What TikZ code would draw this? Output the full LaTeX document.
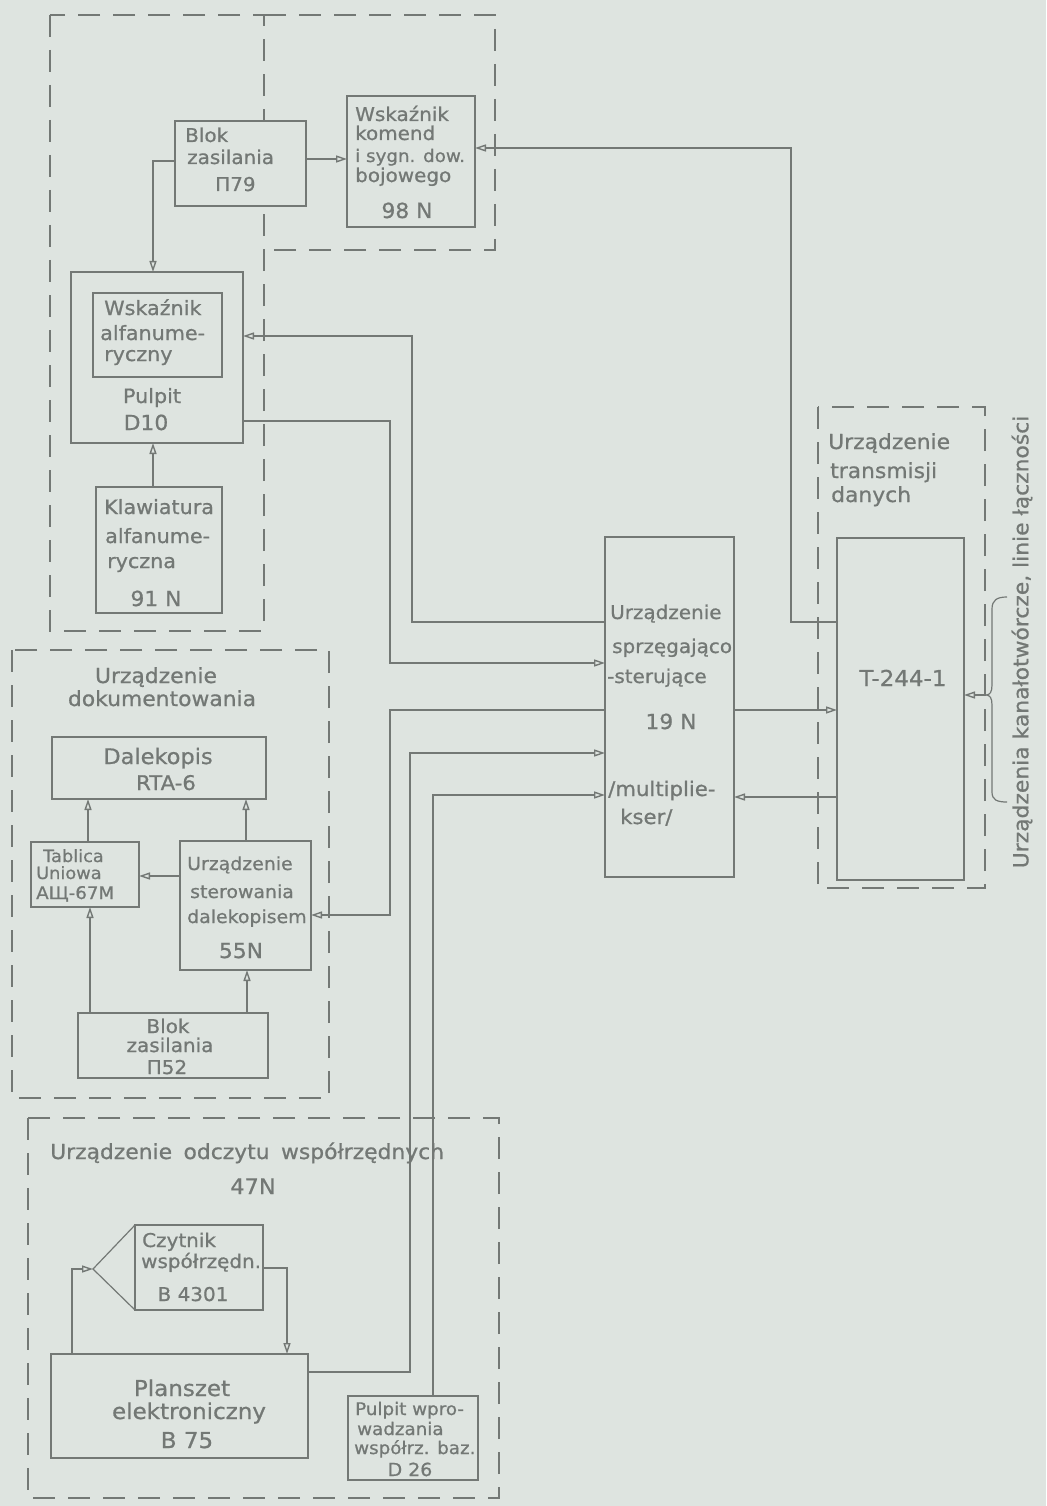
\documentclass[tikz,border=0pt]{standalone}
\usepackage{fontspec}
\usetikzlibrary{arrows.meta}
\newfontfamily\lab[FakeStretch=1.05,FakeBold=0.8]{DejaVu Sans}
\definecolor{paper}{RGB}{222,228,224}
\definecolor{ink}{RGB}{115,120,117}
\begin{document}
\begin{tikzpicture}[x=1pt,y=-1pt,
  tsize/.style={font=\lab\fontsize{#1}{#1}\selectfont},
  tl/.style={anchor=base west,inner sep=0pt,text=ink,tsize=19},
  tc/.style={anchor=base,inner sep=0pt,text=ink,tsize=19},
  box/.style={draw=ink,line width=1.3pt,fill=paper,inner sep=0pt,outer sep=0pt},
  grp/.style={draw=ink,line width=1.4pt,dash pattern=on 22pt off 13pt},
  wire/.style={draw=ink,line width=1.2pt},
  arr/.style={wire,-{Triangle[open,length=11pt,width=7pt,line width=1.4pt]}}]

% paper
\fill[paper] (0,0) rectangle (1046,1506);
\useasboundingbox (0,0) rectangle (1046,1506);

% dashed group frames
\draw[grp] (50,15) rectangle (264,631);
\draw[grp] (264,15) -- (495,15) -- (495,250) -- (264,250);
\draw[grp] (12,650) rectangle (329,1098);
\draw[grp] (818,407) rectangle (985,888);
\draw[grp] (28,1118) rectangle (499,1498);

% blocks
\node[box,minimum width=131,minimum height=85]  (blok79) at (240.5,163.5) {};
\node[box,minimum width=128,minimum height=131] (w98)    at (411,161.5) {};
\node[box,minimum width=172,minimum height=171] (pulpit) at (157,357.5) {};
\node[box,minimum width=129,minimum height=84]  (walfa)  at (157.5,335) {};
\node[box,minimum width=126,minimum height=126] (klaw)   at (159,550) {};
\node[box,minimum width=214,minimum height=62]  (dalek)  at (159,768) {};
\node[box,minimum width=108,minimum height=65]  (tabl)   at (85,874.5) {};
\node[box,minimum width=131,minimum height=129] (s55)    at (245.5,905.5) {};
\node[box,minimum width=190,minimum height=65]  (blok52) at (173,1045.5) {};
\node[box,minimum width=129,minimum height=340] (n19)    at (669.5,707) {};
\node[box,minimum width=127,minimum height=342] (t244)   at (900.5,709) {};
\node[box,minimum width=128,minimum height=85]  (czyt)   at (199,1267.5) {};
\node[box,minimum width=257,minimum height=104] (plansz) at (179.5,1406) {};
\node[box,minimum width=130,minimum height=84]  (d26)    at (413,1438) {};

% reader head of the coordinate reader
\coordinate (apex) at (93,1269);
\draw[wire] (czyt.north west) -- (apex) -- (czyt.south west);

% bend points of the connectors
\coordinate (k1) at (791,148);
\coordinate (k2) at (412,336);
\coordinate (k3) at (390,421);
\coordinate (k4) at (390,915);
\coordinate (k5) at (410,1372);
\coordinate (k6) at (433,795);
\coordinate (k7) at (287,1268);
\coordinate (k8) at (72,1269);

% connectors, upper part
\draw[arr] (blok79.east |- 0,159) -- (w98.west |- 0,159);
\draw[arr] (blok79.west |- 0,161) -| (153,0 |- pulpit.north);
\draw[arr] (klaw.north -| 153,0) -- (pulpit.south -| 153,0);
\draw[arr] (t244.west |- 0,622) -| (k1) -- (w98.east |- k1);
\draw[arr] (n19.west |- 0,622) -| (k2) -- (pulpit.east |- k2);
\draw[arr] (pulpit.east |- k3) -- (k3) |- (n19.west |- 0,663);
\draw[arr] (n19.west |- 0,710) -| (k4) -- (s55.east |- k4);
\draw[arr] (plansz.east |- k5) -- (k5) |- (n19.west |- 0,753);
\draw[arr] (d26.north -| k6) -- (k6) -- (n19.west |- k6);
\draw[arr] (n19.east |- 0,710) -- (t244.west |- 0,710);
\draw[arr] (t244.west |- 0,797) -- (n19.east |- 0,797);

% connectors, documenting unit
\draw[arr] (tabl.north -| 88,0) -- (dalek.south -| 88,0);
\draw[arr] (s55.north -| 246,0) -- (dalek.south -| 246,0);
\draw[arr] (s55.west |- 0,876) -- (tabl.east |- 0,876);
\draw[arr] (blok52.north -| 90,0) -- (tabl.south -| 90,0);
\draw[arr] (blok52.north -| 247,0) -- (s55.south -| 247,0);

% connectors, coordinate reading unit
\draw[arr] (czyt.east |- k7) -- (k7) -- (plansz.north -| k7);
\draw[arr] (plansz.north -| k8) -- (k8) -- (apex);

% external lines with brace
\coordinate (tip) at (986,695);
\draw[wire] (1007,597) .. controls (997,597) and (992,600) .. (992,609) -- (992,685)
  .. controls (992,692) and (990,695) .. (tip)
  .. controls (990,695) and (992,698) .. (992,705) -- (992,792)
  .. controls (992,800) and (997,802) .. (1007,802);
\draw[arr] (tip) -- (t244.east |- tip);
\node[anchor=center,rotate=90,inner sep=0pt,text=ink,tsize=20.8] (ext) at (1022,642)
  {Urządzenia kanałotwórcze, linie łączności};

% texts: power supply П79
\node[tl] (a1) at (185,142) {Blok};
\node[tl] (a2) at (187,164) {zasilania};
\node[tl] (a3) at (215,191) {П79};
% command indicator
\node[tl] (b1) at (355,121) {Wskaźnik};
\node[tl] (b2) at (355,140) {komend};
\node[tl,tsize=17.4] (b3) at (355,162) {i sygn. dow.};
\node[tl] (b4) at (355,182) {bojowego};
\node[tc,tsize=20.8] (b5) at (407,218) {98 N};
% console D10
\node[tl,tsize=19.7] (c1) at (104,315) {Wskaźnik};
\node[tl,tsize=19.7] (c2) at (100,340) {alfanume-};
\node[tl,tsize=19.7] (c3) at (104,361) {ryczny};
\node[tc,tsize=19.7] (c4) at (152,403) {Pulpit};
\node[tc,tsize=20.8] (c5) at (146,430) {D10};
% keyboard
\node[tl,tsize=19.7] (d1) at (104,514) {Klawiatura};
\node[tl,tsize=19.7] (d2) at (105,543) {alfanume-};
\node[tl,tsize=19.7] (d3) at (107,568) {ryczna};
\node[tc,tsize=20.8] (d4) at (156,606) {91 N};
% documenting unit
\node[tc,tsize=20.8] (e1) at (156,683) {Urządzenie};
\node[tc,tsize=20.8] (e2) at (162,706) {dokumentowania};
\node[tc,tsize=21.4] (e3) at (158,764) {Dalekopis};
\node[tc,tsize=20.2] (e4) at (166,790) {RTA-6};
\node[tl,tsize=16.9] (e5) at (43,862) {Tablica};
\node[tl,tsize=16.9] (e6) at (36,879) {Uniowa};
\node[tl,tsize=17.4] (e7) at (36,899) {АЩ-67М};
\node[tl,tsize=18] (e8) at (187,870) {Urządzenie};
\node[tl,tsize=18] (e9) at (190,898) {sterowania};
\node[tl,tsize=18] (e10) at (187,923) {dalekopisem};
\node[tc,tsize=20.8] (e11) at (241,958) {55N};
\node[tc] (e12) at (168,1033) {Blok};
\node[tc] (e13) at (170,1052) {zasilania};
\node[tc] (e14) at (167,1074) {П52};
% interface and control unit
\node[tl] (f1) at (610,619) {Urządzenie};
\node[tl] (f2) at (612,653) {sprzęgająco};
\node[tl] (f3) at (607,683) {-sterujące};
\node[tc,tsize=20.8] (f4) at (671,729) {19 N};
\node[tl,tsize=20.2] (f5) at (608,796) {/multiplie-};
\node[tl,tsize=20.2] (f6) at (620,824) {kser/};
% data transmission unit
\node[tl,tsize=20.8] (g1) at (828,449) {Urządzenie};
\node[tl,tsize=20.8] (g2) at (830,478) {transmisji};
\node[tl,tsize=20.8] (g3) at (831,502) {danych};
\node[tc,tsize=21.9] (g4) at (903,686) {T-244-1};
% coordinate reading unit
\node[tl,tsize=20.8] (h1) at (50,1159)
  {Urządzenie\hspace{0.55em}odczytu\hspace{0.55em}współrzędnych};
\node[tc,tsize=21.4] (h2) at (253,1194) {47N};
\node[tl] (h3) at (142,1247) {Czytnik};
\node[tl] (h4) at (141,1268) {współrzędn.};
\node[tc] (h5) at (193,1301) {B 4301};
\node[tc,tsize=21.9] (h6) at (182,1396) {Planszet};
\node[tc,tsize=21.9] (h7) at (189,1419) {elektroniczny};
\node[tc,tsize=21.9] (h8) at (187,1448) {B 75};
\node[tl,tsize=17.4] (h9) at (355,1415) {Pulpit wpro-};
\node[tl,tsize=17.4] (h10) at (357,1435) {wadzania};
\node[tl,tsize=17.4] (h11) at (354,1454) {współrz. baz.};
\node[tc,tsize=18] (h12) at (410,1476) {D 26};
\end{tikzpicture}
\end{document}
